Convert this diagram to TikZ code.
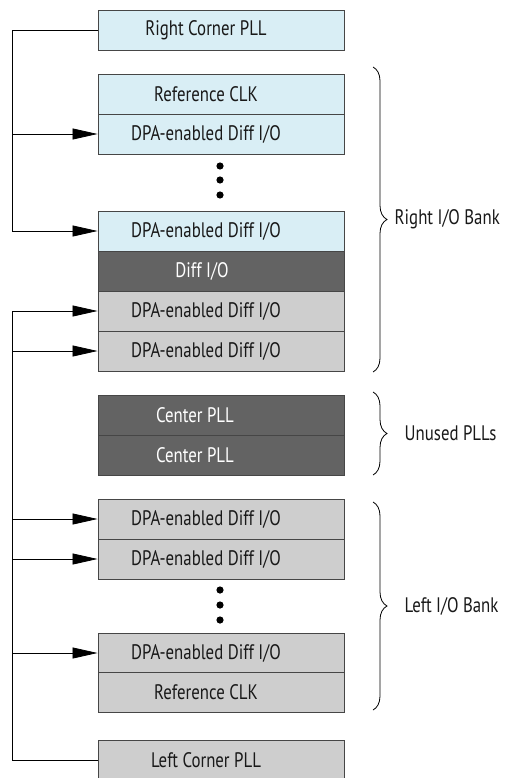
\documentclass[tikz,border=0pt]{standalone}
\usepackage{fontspec}
\setmainfont{PT Sans}[FakeStretch=0.8]
\usepackage{xcolor}
\usetikzlibrary{arrows.meta,decorations.pathreplacing}
\definecolor{cellblue}{RGB}{217,238,245}
\definecolor{celldark}{RGB}{99,99,99}
\definecolor{cellgray}{RGB}{206,206,206}
\definecolor{celledge}{RGB}{70,70,70}

\begin{document}
\begin{tikzpicture}[x=1pt,y=-1pt,
  cell/.style={draw=celledge,line width=0.9pt,minimum width=246pt,minimum height=40pt,
    inner sep=0pt,font=\fontsize{21}{21}\selectfont,pad=30pt},
  pad/.style={execute at end node={\hspace*{#1}}},
  blue cell/.style={cell,fill=cellblue,text=black!90},
  dark cell/.style={cell,fill=celldark,text=white},
  gray cell/.style={cell,fill=cellgray,text=black!90},
  feed/.style={line width=0.8pt,-{Triangle[length=25pt,width=11pt]}},
  bank/.style={decorate,decoration={brace,amplitude=14pt},line width=0.8pt},
  banktext/.style={anchor=west,font=\fontsize{21}{21}\selectfont,text=black!90}]
\useasboundingbox (0,0) rectangle (511,778);

% right side
\node[blue cell] (rcpll) at (221,30) {Right Corner PLL};
\node[blue cell] (rref) at (221,94) {Reference CLK};
\node[blue cell] (rdpa1) at (221,134) {DPA-enabled Diff I/O};
\node[blue cell] (rdpa2) at (221,231) {DPA-enabled Diff I/O};
\node[dark cell,pad=8pt] (rdiff) at (221,271) {Diff I/O};
\node[gray cell] (rdpa3) at (221,311) {DPA-enabled Diff I/O};
\node[gray cell] (rdpa4) at (221,351) {DPA-enabled Diff I/O};

% center
\node[dark cell,pad=22pt] (cpll1) at (221,415) {Center PLL};
\node[dark cell,pad=22pt] (cpll2) at (221,455) {Center PLL};

% left side
\node[gray cell] (ldpa1) at (221,519) {DPA-enabled Diff I/O};
\node[gray cell] (ldpa2) at (221,559) {DPA-enabled Diff I/O};
\node[gray cell] (ldpa3) at (221,653) {DPA-enabled Diff I/O};
\node[gray cell] (lref) at (221,692) {Reference CLK};
\node[gray cell] (lcpll) at (221,760) {Left Corner PLL};

\foreach \y in {166,180,195,590,605,620}
  \fill (220,\y) circle (3.6pt);

% clock feeds
\coordinate (rbus) at (12,30);
\coordinate (lbus) at (12,760);
\draw[line width=0.8pt] (rcpll.west) -- (rbus) -- (rbus |- rdpa2.west);
\draw[feed] (rbus |- rdpa1.west) -- (rdpa1.west);
\draw[feed] (rbus |- rdpa2.west) -- (rdpa2.west);
\draw[line width=0.8pt] (lcpll.west) -- (lbus) -- (lbus |- rdpa3.west);
\foreach \n in {rdpa3,rdpa4,ldpa1,ldpa2,ldpa3}
  \draw[feed] (lbus |- \n.west) -- (\n.west);

% banks
\draw[bank] (373,67) -- (373,372) node[midway,xshift=18pt,banktext] (rbank) {Right I/O Bank};
\draw[bank] (373,392) -- (373,475) node[midway,xshift=28pt,banktext] (ubank) {Unused PLLs};
\draw[bank] (373,502) -- (373,710) node[midway,xshift=28pt,banktext] (lbank) {Left I/O Bank};
\end{tikzpicture}
\end{document}
